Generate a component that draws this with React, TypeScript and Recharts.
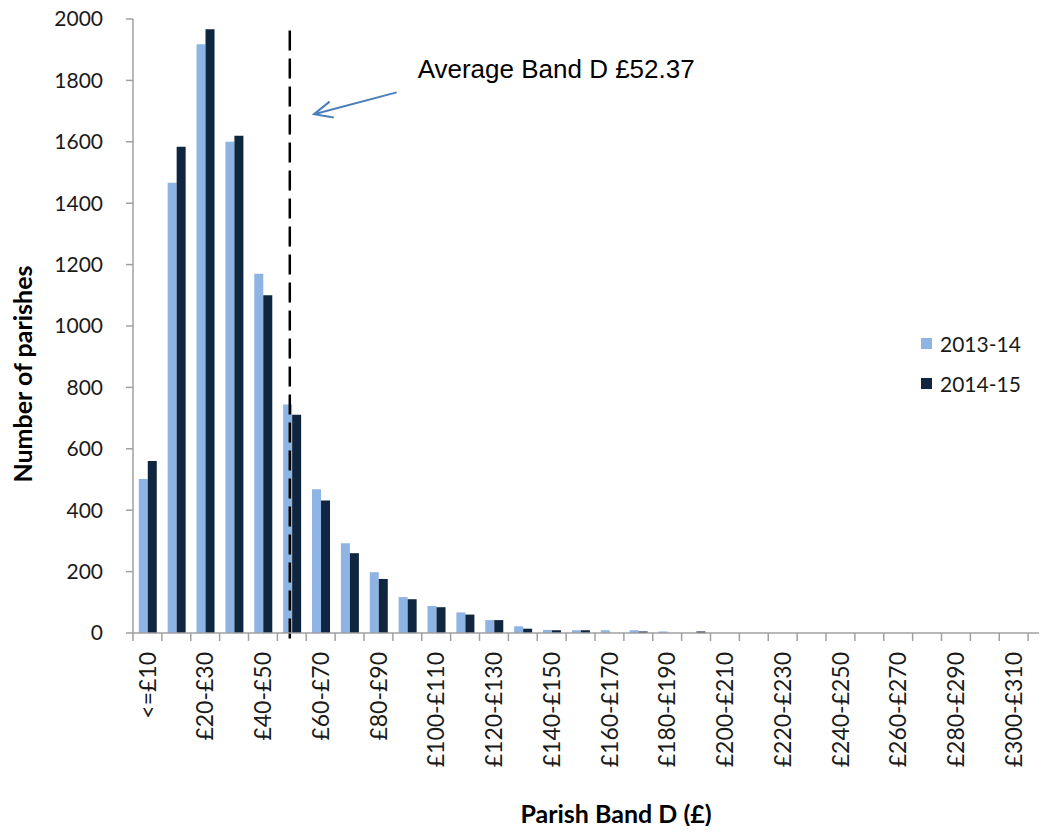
import React from "react";
import { Bar, BarChart, Legend, ReferenceLine, XAxis, YAxis } from "recharts";

// Bandes de £10 (la dernière tombe hors du cadre de l'image d'origine)
const categories = [
  "<=£10", "£10-£20", "£20-£30", "£30-£40", "£40-£50", "£50-£60", "£60-£70", "£70-£80",
  "£80-£90", "£90-£100", "£100-£110", "£110-£120", "£120-£130", "£130-£140", "£140-£150",
  "£150-£160", "£160-£170", "£170-£180", "£180-£190", "£190-£200", "£200-£210", "£210-£220",
  "£220-£230", "£230-£240", "£240-£250", "£250-£260", "£260-£270", "£270-£280", "£280-£290",
  "£290-£300", "£300-£310", ">£310",
];

const parishes2013 = [
  502, 1467, 1918, 1600, 1170, 744, 468, 292, 198, 117, 88, 67, 42, 22, 10, 9,
  9, 9, 5, 0, 0, 0, 0, 0, 0, 0, 0, 0, 0, 0, 0, 0,
];
const parishes2014 = [
  560, 1584, 1967, 1620, 1100, 711, 432, 260, 176, 110, 84, 60, 42, 14, 9, 9,
  0, 5, 0, 5, 0, 0, 0, 0, 0, 0, 0, 0, 0, 0, 0, 0,
];

const yTicks = [0, 200, 400, 600, 800, 1000, 1200, 1400, 1600, 1800, 2000];

const AVERAGE_BAND_D = 52.37;
// positions de l'annotation (échelle en £ / nombre de paroisses)
const markerX = 54.3;
const markerSpan = [-18, 1980];
const arrowFrom = { x: 91.3, y: 1761 };
const arrowTo = { x: 62.7, y: 1690 };

const series = [
  { key: "y2013", name: "2013-14", color: "#8DB4E2" },
  { key: "y2014", name: "2014-15", color: "#10253F" },
];

const data = categories.map((name, i) => ({
  name,
  y2013: parishes2013[i],
  y2014: parishes2014[i],
}));

const AXIS = "#A0A0A0";
const FONT = "Lato, 'Open Sans', sans-serif";

function BandTick(props: any) {
  const { x, y, payload, index } = props;
  const edge = x - (payload?.offset ?? 0);
  return (
    <g>
      <line x1={edge} y1={y} x2={edge} y2={y + 8} stroke={AXIS} strokeWidth={1.5} />
      {index % 2 === 0 && (
        <text
          transform={`translate(${x},${y + 19}) rotate(-90)`}
          textAnchor="end"
          dy="0.36em"
          fontFamily={FONT}
          fontSize={23}
          fill="#1a1a1a"
        >
          {payload.value}
        </text>
      )}
    </g>
  );
}

function XTitle() {
  return (
    <text x={608} y={815} textAnchor="middle" fontFamily={FONT} fontWeight={700} fontSize={25} fill="#000">
      Parish Band D (£)
    </text>
  );
}

function YTitle() {
  return (
    <text
      x={24}
      y={366}
      transform="rotate(-90, 24, 366)"
      textAnchor="middle"
      fontFamily={FONT}
      fontWeight={700}
      fontSize={25}
      fill="#000"
    >
      Number of parishes
    </text>
  );
}

function Arrow(props: any) {
  const { x1, y1, x2, y2 } = props;
  if (![x1, y1, x2, y2].every(Number.isFinite)) return null;
  const a = Math.atan2(y2 - y1, x2 - x1);
  const len = 20;
  const spread = 0.42;
  const p1 = [x2 - len * Math.cos(a - spread), y2 - len * Math.sin(a - spread)];
  const p2 = [x2 - len * Math.cos(a + spread), y2 - len * Math.sin(a + spread)];
  return (
    <g>
      <line x1={x1} y1={y1} x2={x2} y2={y2} stroke="#4A7EBB" strokeWidth={2} />
      <polyline
        points={`${p1[0]},${p1[1]} ${x2},${y2} ${p2[0]},${p2[1]}`}
        fill="none"
        stroke="#4A7EBB"
        strokeWidth={2}
      />
      <text
        x={x1 + 21}
        y={y1 - 14}
        fontFamily="'Liberation Sans', Arial, sans-serif"
        fontSize={26}
        fill="#000"
      >
        {`Average Band D £${AVERAGE_BAND_D.toFixed(2)}`}
      </text>
    </g>
  );
}

function LegendBox() {
  return (
    <div style={{ fontFamily: FONT, fontSize: 21, color: "#1a1a1a" }}>
      {series.map((s) => (
        <div key={s.key} style={{ display: "flex", alignItems: "center", height: 40 }}>
          <span style={{ width: 11, height: 11, background: s.color, marginRight: 8 }} />
          <span>{s.name}</span>
        </div>
      ))}
    </div>
  );
}

export default function App() {
  return (
    <div style={{ width: 1039, height: 826, overflow: "hidden", marginBottom: -8 }}>
      <BarChart
        width={1054}
        height={826}
        data={data}
        margin={{ top: 11, right: 5, bottom: 0, left: 0 }}
        barCategoryGap="20%"
        barGap={0}
      >
        <XAxis
          dataKey="name"
          interval={0}
          tickLine={false}
          tickSize={0}
          tickMargin={0}
          height={201}
          axisLine={{ stroke: AXIS, strokeWidth: 1.5 }}
          tick={<BandTick />}
          label={<XTitle />}
        />
        <XAxis
          xAxisId="num"
          type="number"
          dataKey={() => 0}
          domain={[0, 320]}
          allowDataOverflow
          hide
          height={0}
        />
        <YAxis
          domain={[0, 2000]}
          ticks={yTicks}
          interval={0}
          width={125}
          tickSize={7}
          tickMargin={23}
          axisLine={{ stroke: AXIS, strokeWidth: 1.5 }}
          tickLine={{ stroke: AXIS, strokeWidth: 1.5 }}
          tick={{ fill: "#1a1a1a", fontSize: 21, fontFamily: FONT }}
          label={<YTitle />}
        />
        <Legend
          layout="vertical"
          align="center"
          verticalAlign="middle"
          wrapperStyle={{ left: 913, top: 315, width: "auto" }}
          content={() => <LegendBox />}
        />
        {series.map((s) => (
          <Bar key={s.key} dataKey={s.key} name={s.name} fill={s.color} isAnimationActive={false} />
        ))}
        <ReferenceLine
          xAxisId="num"
          segment={[
            { x: markerX, y: markerSpan[0] },
            { x: markerX, y: markerSpan[1] },
          ]}
          ifOverflow="visible"
          stroke="#000"
          strokeWidth={2.5}
          strokeDasharray="20 8"
        />
        <ReferenceLine
          xAxisId="num"
          segment={[arrowFrom, arrowTo]}
          ifOverflow="visible"
          shape={(p: any) => <Arrow {...p} />}
        />
      </BarChart>
    </div>
  );
}
